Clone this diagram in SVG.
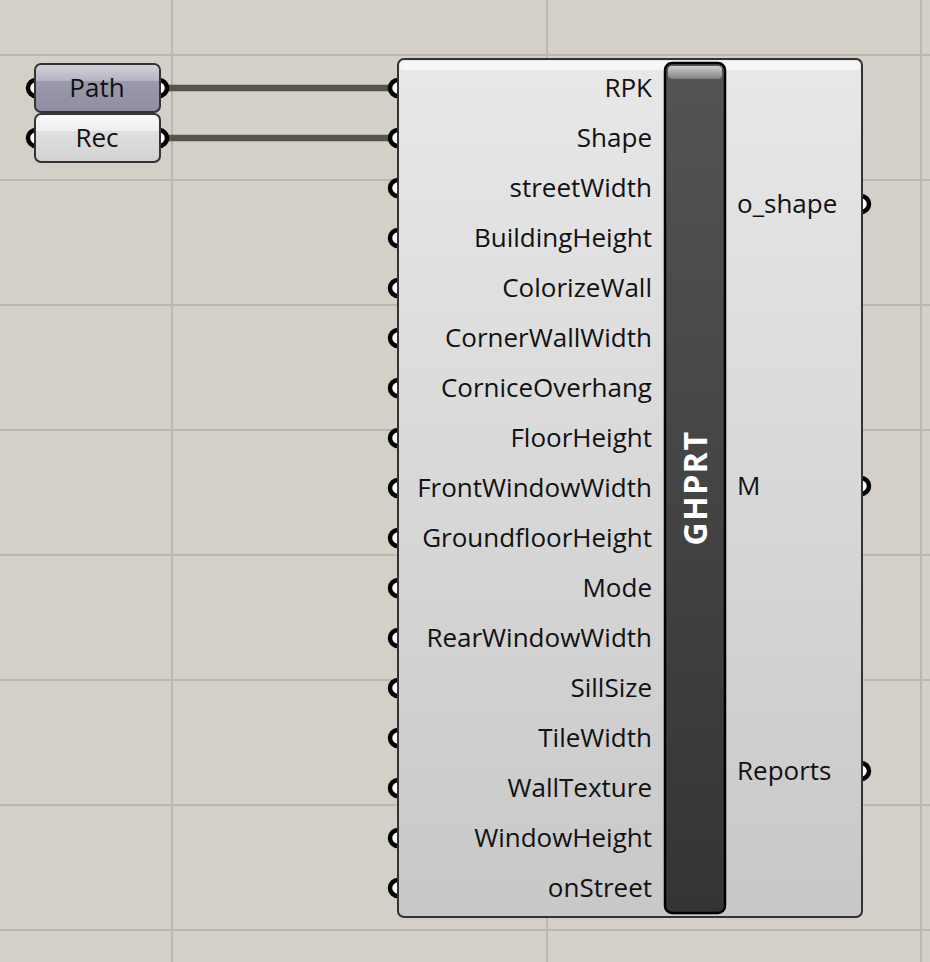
<svg xmlns="http://www.w3.org/2000/svg" width="930" height="962" viewBox="0 0 930 962">
<style>
.grid{stroke:#bbb6ae;stroke-width:2}
.lbl{font-family:"Open Sans","Noto Sans","DejaVu Sans",sans-serif;font-size:26px;fill:#111}
.in{text-anchor:end}
.port{fill:#fff;stroke:#000;stroke-width:4.5}
.wire{stroke:#57544f;stroke-width:6.5;fill:none}
</style>
<defs>
<linearGradient id="body" x1="0" y1="0" x2="0" y2="1">
<stop offset="0" stop-color="#e8e8e8"/>
<stop offset="1" stop-color="#c8c8c8"/>
</linearGradient>
<linearGradient id="bar" x1="0" y1="0" x2="0" y2="1">
<stop offset="0" stop-color="#545454"/>
<stop offset="1" stop-color="#343434"/>
</linearGradient>
<linearGradient id="barTop" x1="0" y1="0" x2="0" y2="1">
<stop offset="0" stop-color="#d0d0d0"/>
<stop offset="1" stop-color="#808080"/>
</linearGradient>
<linearGradient id="pathG" x1="0" y1="0" x2="0" y2="1">
<stop offset="0" stop-color="#d4d4de"/>
<stop offset="0.35" stop-color="#b4b4c2"/>
<stop offset="0.36" stop-color="#9a9aac"/>
<stop offset="1" stop-color="#8e8ea0"/>
</linearGradient>
<linearGradient id="recG" x1="0" y1="0" x2="0" y2="1">
<stop offset="0" stop-color="#fafafa"/>
<stop offset="0.35" stop-color="#eeeeee"/>
<stop offset="0.36" stop-color="#e0e0e0"/>
<stop offset="1" stop-color="#d2d2d2"/>
</linearGradient>
</defs>
<rect width="930" height="962" fill="#d4d0c8"/>
<g id="grid">
<line class="grid" x1="0" y1="55" x2="930" y2="55"/>
<line class="grid" x1="0" y1="180" x2="930" y2="180"/>
<line class="grid" x1="0" y1="305" x2="930" y2="305"/>
<line class="grid" x1="0" y1="430" x2="930" y2="430"/>
<line class="grid" x1="0" y1="555" x2="930" y2="555"/>
<line class="grid" x1="0" y1="680" x2="930" y2="680"/>
<line class="grid" x1="0" y1="805" x2="930" y2="805"/>
<line class="grid" x1="0" y1="930" x2="930" y2="930"/>
<line class="grid" x1="172" y1="0" x2="172" y2="962"/>
<line class="grid" x1="547" y1="0" x2="547" y2="962"/>
<line class="grid" x1="921" y1="0" x2="921" y2="962"/>
</g>
<g id="connectors">
<line class="wire" x1="164" y1="88" x2="392" y2="88"/>
<line class="wire" x1="164" y1="138" x2="392" y2="138"/>
</g>
<g id="path">
<circle class="port" cx="36" cy="88" r="8"/>
<circle class="port" cx="159" cy="88" r="8"/>
<rect x="35" y="64" width="125" height="48" rx="6" fill="url(#pathG)" stroke="#333" stroke-width="2"/>
<text class="lbl" x="97" y="97" text-anchor="middle">Path</text>
</g>
<g id="rec">
<circle class="port" cx="36" cy="138" r="8"/>
<circle class="port" cx="159" cy="138" r="8"/>
<rect x="35" y="114" width="125" height="48" rx="6" fill="url(#recG)" stroke="#333" stroke-width="2"/>
<text class="lbl" x="97" y="147" text-anchor="middle">Rec</text>
</g>
<g id="ghprt">
<g>
<circle class="port" cx="398" cy="88" r="8"/>
<circle class="port" cx="398" cy="138" r="8"/>
<circle class="port" cx="398" cy="188" r="8"/>
<circle class="port" cx="398" cy="238" r="8"/>
<circle class="port" cx="398" cy="288" r="8"/>
<circle class="port" cx="398" cy="338" r="8"/>
<circle class="port" cx="398" cy="388" r="8"/>
<circle class="port" cx="398" cy="438" r="8"/>
<circle class="port" cx="398" cy="488" r="8"/>
<circle class="port" cx="398" cy="538" r="8"/>
<circle class="port" cx="398" cy="588" r="8"/>
<circle class="port" cx="398" cy="638" r="8"/>
<circle class="port" cx="398" cy="688" r="8"/>
<circle class="port" cx="398" cy="738" r="8"/>
<circle class="port" cx="398" cy="788" r="8"/>
<circle class="port" cx="398" cy="838" r="8"/>
<circle class="port" cx="398" cy="888" r="8"/>
<circle class="port" cx="861" cy="204" r="8"/>
<circle class="port" cx="861" cy="486" r="8"/>
<circle class="port" cx="861" cy="771" r="8"/>
</g>
<rect x="398" y="59" width="464" height="858" rx="6" fill="url(#body)" stroke="#333" stroke-width="2"/>
<rect x="400" y="61" width="460" height="9" rx="4" fill="#f6f6f6"/>
<rect x="665" y="63" width="60" height="850" rx="7" fill="url(#bar)" stroke="#000" stroke-width="2.5"/>
<rect x="668" y="66" width="54" height="13" rx="4" fill="url(#barTop)"/>
<text x="0" y="0" transform="translate(707,488) rotate(-90)" text-anchor="middle" font-family="'Open Sans','Noto Sans','DejaVu Sans',sans-serif" font-weight="bold" font-size="32" fill="#fff" letter-spacing="1.5">GHPRT</text>
<text class="lbl in" x="652" y="97">RPK</text>
<text class="lbl in" x="652" y="147">Shape</text>
<text class="lbl in" x="652" y="197">streetWidth</text>
<text class="lbl in" x="652" y="247">BuildingHeight</text>
<text class="lbl in" x="652" y="297">ColorizeWall</text>
<text class="lbl in" x="652" y="347">CornerWallWidth</text>
<text class="lbl in" x="652" y="397">CorniceOverhang</text>
<text class="lbl in" x="652" y="447">FloorHeight</text>
<text class="lbl in" x="652" y="497">FrontWindowWidth</text>
<text class="lbl in" x="652" y="547">GroundfloorHeight</text>
<text class="lbl in" x="652" y="597">Mode</text>
<text class="lbl in" x="652" y="647">RearWindowWidth</text>
<text class="lbl in" x="652" y="697">SillSize</text>
<text class="lbl in" x="652" y="747">TileWidth</text>
<text class="lbl in" x="652" y="797">WallTexture</text>
<text class="lbl in" x="652" y="847">WindowHeight</text>
<text class="lbl in" x="652" y="897">onStreet</text>
<text class="lbl" x="737" y="213">o_shape</text>
<text class="lbl" x="737" y="495">M</text>
<text class="lbl" x="737" y="780">Reports</text>
</g>
</svg>
